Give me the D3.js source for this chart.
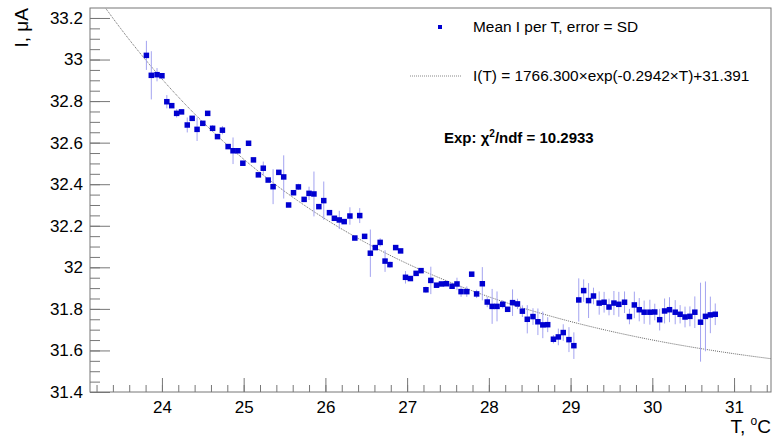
<!DOCTYPE html>
<html>
<head>
<meta charset="utf-8">
<script src="https://cdn.jsdelivr.net/npm/d3@7"></script>
<style>
  body { margin: 0; background: #fff; }
  svg { display: block; font-family: "Liberation Sans", Arial, sans-serif; }
</style>
</head>
<body>
<svg id="chart"></svg>
<script>
// temperature bins, deg C
let temps = [23.81, 23.87, 23.94, 24.00, 24.06, 24.12, 24.18, 24.24, 24.31, 24.37,
  24.43, 24.50, 24.56, 24.62, 24.68, 24.74, 24.81, 24.87, 24.93, 24.99,
  25.06, 25.12, 25.18, 25.24, 25.30, 25.36, 25.43, 25.49, 25.55, 25.61,
  25.67, 25.74, 25.80, 25.86, 25.92, 25.98, 26.05, 26.11, 26.17, 26.23,
  26.30, 26.36, 26.42, 26.48, 26.55, 26.61, 26.67, 26.73, 26.79, 26.86,
  26.92, 26.98, 27.04, 27.11, 27.17, 27.23, 27.29, 27.36, 27.42, 27.48,
  27.55, 27.61, 27.66, 27.73, 27.79, 27.85, 27.92, 27.98, 28.04, 28.10,
  28.17, 28.23, 28.29, 28.35, 28.41, 28.47, 28.54, 28.60, 28.66, 28.72,
  28.79, 28.85, 28.91, 28.98, 29.04, 29.10, 29.16, 29.22, 29.28, 29.35,
  29.41, 29.47, 29.53, 29.59, 29.66, 29.72, 29.78, 29.84, 29.90, 29.97,
  30.03, 30.09, 30.15, 30.21, 30.28, 30.34, 30.40, 30.46, 30.52, 30.59,
  30.65, 30.71, 30.77]

// mean current, uA
let currents = [33.020, 32.924, 32.927, 32.922, 32.797, 32.778, 32.741, 32.748, 32.685, 32.717,
  32.664, 32.693, 32.741, 32.669, 32.629, 32.660, 32.581, 32.561, 32.561, 32.501,
  32.597, 32.517, 32.445, 32.477, 32.420, 32.388, 32.457, 32.435, 32.300, 32.359,
  32.387, 32.327, 32.356, 32.353, 32.292, 32.321, 32.263, 32.236, 32.228, 32.220,
  32.247, 32.141, 32.249, 32.149, 32.068, 32.095, 32.120, 32.030, 32.013, 32.095,
  32.079, 31.952, 31.946, 31.971, 31.984, 31.892, 31.937, 31.914, 31.920, 31.921,
  31.909, 31.920, 31.883, 31.883, 31.967, 31.872, 31.921, 31.833, 31.812, 31.812,
  31.822, 31.798, 31.830, 31.824, 31.789, 31.750, 31.763, 31.738, 31.723, 31.724,
  31.654, 31.665, 31.686, 31.652, 31.623, 31.843, 31.888, 31.840, 31.862, 31.828,
  31.832, 31.809, 31.828, 31.822, 31.832, 31.763, 31.819, 31.796, 31.784, 31.784,
  31.785, 31.748, 31.790, 31.796, 31.784, 31.774, 31.761, 31.764, 31.784, 31.736,
  31.764, 31.771, 31.774]

// standard deviation, uA
let sds = [0.070, 0.116, 0.032, 0.010, 0.032, 0.010, 0.020, 0.010, 0.036, 0.010,
  0.056, 0.010, 0.010, 0.015, 0.010, 0.020, 0.010, 0.064, 0.010, 0.010,
  0.010, 0.010, 0.010, 0.032, 0.010, 0.084, 0.010, 0.104, 0.010, 0.010,
  0.015, 0.010, 0.032, 0.108, 0.010, 0.092, 0.010, 0.010, 0.044, 0.010,
  0.042, 0.010, 0.036, 0.010, 0.114, 0.010, 0.020, 0.052, 0.015, 0.010,
  0.010, 0.030, 0.010, 0.010, 0.010, 0.015, 0.066, 0.010, 0.010, 0.010,
  0.010, 0.030, 0.025, 0.025, 0.010, 0.020, 0.080, 0.025, 0.084, 0.072,
  0.020, 0.010, 0.064, 0.025, 0.028, 0.068, 0.040, 0.064, 0.064, 0.036,
  0.020, 0.040, 0.040, 0.060, 0.064, 0.104, 0.054, 0.084, 0.040, 0.056,
  0.050, 0.040, 0.058, 0.060, 0.052, 0.037, 0.064, 0.056, 0.056, 0.060,
  0.040, 0.052, 0.060, 0.060, 0.058, 0.044, 0.050, 0.048, 0.076, 0.190,
  0.168, 0.088, 0.052]

let xTickLabels = [24, 25, 26, 27, 28, 29, 30, 31]
let yTickLabels = [31.4, 31.6, 31.8, 32, 32.2, 32.4, 32.6, 32.8, 33, 33.2]

// fit: I(T) = A*exp(B*T) + C
let fitA = 1766.300
let fitB = -0.2942
let fitC = 31.391

let width = 773
let height = 438
let frameLeft = 90
let frameRight = 771
let frameTop = 8
let frameBottom = 392

let svg = d3.select('#chart').attr('width', width).attr('height', height)

let xScale = d3.scaleLinear().domain([23.12, 31.452]).range([frameLeft, frameRight])
let yScale = d3.scaleLinear().domain([31.4, 33.248]).range([frameBottom, frameTop])

let points = temps.map((t, i) => ({ t: t, v: currents[i], e: sds[i] }))

svg.append('clipPath').attr('id', 'frame-clip')
  .append('rect')
  .attr('x', frameLeft).attr('y', frameTop)
  .attr('width', frameRight - frameLeft).attr('height', frameBottom - frameTop)

// axes with inward ticks, ROOT style
let xMinor = d3.range(0, 42).map(i => 23.2 + i * 0.2)
let yMinor = d3.range(0, 37).map(i => 31.4 + i * 0.05)

svg.append('g')
  .attr('transform', 'translate(0,' + frameBottom + ')')
  .call(d3.axisBottom(xScale).tickValues(xMinor).tickSizeInner(-7).tickSizeOuter(0).tickFormat(''))
  .call(g => g.select('.domain').remove())
  .call(g => g.selectAll('line').attr('stroke', '#777'))

svg.append('g')
  .attr('transform', 'translate(0,' + frameBottom + ')')
  .call(d3.axisBottom(xScale).tickValues(xTickLabels).tickSizeInner(-14).tickSizeOuter(0).tickPadding(9))
  .call(g => g.select('.domain').remove())
  .call(g => g.selectAll('line').attr('stroke', '#777'))
  .call(g => g.selectAll('text').attr('font-size', 17).attr('fill', '#000')
    .attr('font-family', '"Liberation Sans", Arial, sans-serif'))

svg.append('g')
  .attr('transform', 'translate(' + frameLeft + ',0)')
  .call(d3.axisLeft(yScale).tickValues(yMinor).tickSizeInner(-10).tickSizeOuter(0).tickFormat(''))
  .call(g => g.select('.domain').remove())
  .call(g => g.selectAll('line').attr('stroke', '#777'))

svg.append('g')
  .attr('transform', 'translate(' + frameLeft + ',0)')
  .call(d3.axisLeft(yScale).tickValues(yTickLabels).tickSizeInner(-20).tickSizeOuter(0).tickPadding(7)
    .tickFormat(d => String(d)))
  .call(g => g.select('.domain').remove())
  .call(g => g.selectAll('line').attr('stroke', '#777'))
  .call(g => g.selectAll('text').attr('font-size', 17).attr('fill', '#000')
    .attr('font-family', '"Liberation Sans", Arial, sans-serif'))

// frame
svg.append('rect')
  .attr('x', frameLeft).attr('y', frameTop)
  .attr('width', frameRight - frameLeft).attr('height', frameBottom - frameTop)
  .attr('fill', 'none').attr('stroke', '#777').attr('stroke-width', 1)

// fit curve
let fitLine = d3.line()
  .x(t => xScale(t))
  .y(t => yScale(fitA * Math.exp(fitB * t) + fitC))

svg.append('path')
  .datum(d3.range(0, 401).map(i => 23.12 + i * (31.452 - 23.12) / 400))
  .attr('d', fitLine)
  .attr('clip-path', 'url(#frame-clip)')
  .attr('fill', 'none')
  .attr('stroke', '#666')
  .attr('stroke-width', 1)
  .attr('stroke-dasharray', '1,1')

// error bars
svg.append('g').selectAll('line')
  .data(points)
  .enter()
  .append('line')
  .attr('x1', d => xScale(d.t))
  .attr('x2', d => xScale(d.t))
  .attr('y1', d => yScale(d.v - d.e))
  .attr('y2', d => yScale(d.v + d.e))
  .attr('stroke', '#a3a3f0')
  .attr('stroke-width', 1)

// markers
svg.append('g').selectAll('rect')
  .data(points)
  .enter()
  .append('rect')
  .attr('x', d => xScale(d.t) - 2.75)
  .attr('y', d => yScale(d.v) - 2.75)
  .attr('width', 5.5)
  .attr('height', 5.5)
  .attr('fill', '#0000d0')

// axis titles
svg.append('text')
  .attr('transform', 'translate(28,8) rotate(-90)')
  .attr('text-anchor', 'end')
  .attr('font-size', 19)
  .text('I, \u03bcA')

let xTitle = svg.append('text')
  .attr('x', 771).attr('y', 433)
  .attr('text-anchor', 'end')
  .attr('font-size', 19)
xTitle.append('tspan').text('T, ')
xTitle.append('tspan').attr('font-size', 12).attr('dy', -8).text('o')
xTitle.append('tspan').attr('dy', 8).text('C')

// legend
svg.append('rect')
  .attr('x', 438).attr('y', 25).attr('width', 4).attr('height', 4)
  .attr('fill', '#0000d0')

svg.append('text')
  .attr('x', 473).attr('y', 32)
  .attr('font-size', 15.4)
  .text('Mean I per T, error = SD')

svg.append('line')
  .attr('x1', 410).attr('x2', 462).attr('y1', 76).attr('y2', 76)
  .attr('stroke', '#888').attr('stroke-width', 1).attr('stroke-dasharray', '1,1')

svg.append('text')
  .attr('x', 473).attr('y', 81)
  .attr('font-size', 15.4)
  .text('I(T) = 1766.300\u00d7exp(-0.2942\u00d7T)+31.391')

let chi = svg.append('text')
  .attr('x', 444).attr('y', 143)
  .attr('font-size', 15)
  .attr('font-weight', 'bold')
chi.append('tspan').text('Exp: \u03c7')
chi.append('tspan').attr('font-size', 10).attr('dy', -6).text('2')
chi.append('tspan').attr('dy', 6).text('/ndf = 10.2933')
</script>
</body>
</html>
